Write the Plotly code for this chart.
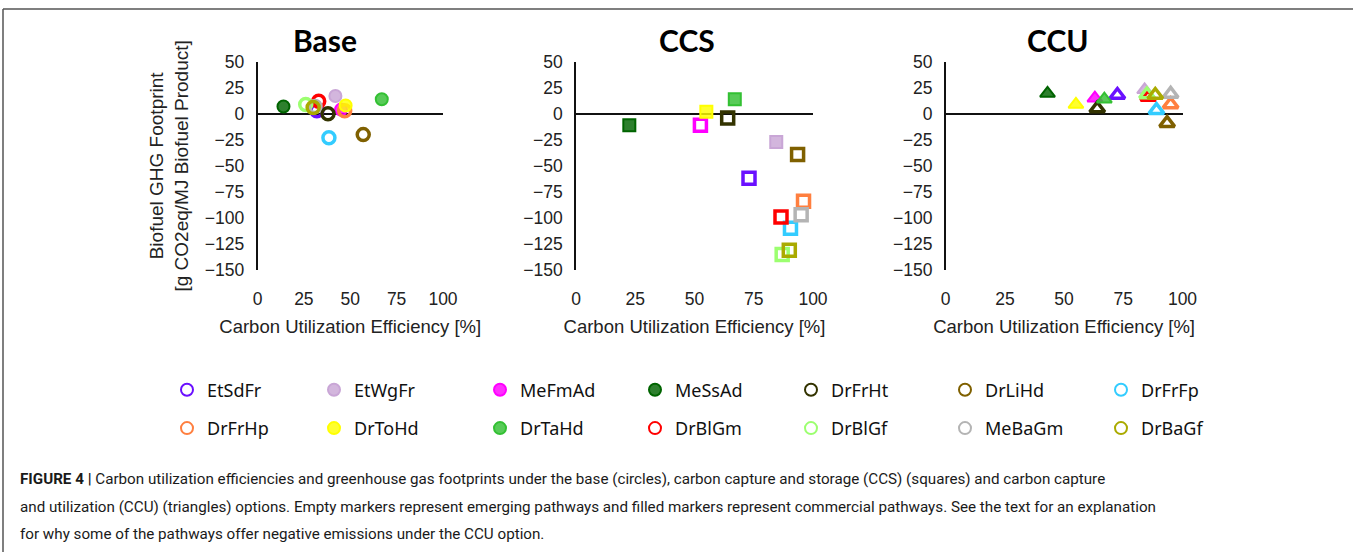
import plotly.graph_objects as go

W, H = 1353, 552

# ---------------- data ----------------
series = ["EtSdFr", "EtWgFr", "MeFmAd", "MeSsAd", "DrFrHt", "DrLiHd", "DrFrFp",
          "DrFrHp", "DrToHd", "DrTaHd", "DrBlGm", "DrBlGf", "MeBaGm", "DrBaGf"]
colors = ["#6a10ff", "#c9a6d6", "#ff00ff", "#006400", "#333300", "#7f6000", "#33ccff",
          "#ff7f3f", "#ffff00", "#33c033", "#ff0000", "#9cff70", "#b4b4b4", "#aaaa00"]

base_x = [32, 42, 45, 14, 38, 57, 38.5, 47, 47.5, 67, 33, 26, 31, 30]
base_y = [3, 17, 4, 7, 0, -20, -23, 3, 8, 14, 12, 9, 7, 6]
base_filled = [0, 1, 1, 1, 0, 0, 0, 0, 1, 1, 0, 0, 0, 0]

ccs_x = [73, 84.5, 52.5, 22.5, 64, 93.5, 90.5, 96, 55, 67, 86.5, 87, 95, 90]
ccs_y = [-62, -27, -11, -11, -4, -39, -110, -84, 2, 14, -99, -135, -97, -131]
ccs_filled = [0, 1, 0, 1, 0, 0, 0, 0, 1, 1, 0, 0, 0, 0]

ccu_x = [72.5, 84, 63, 43, 64, 93.5, 89, 95, 55, 67, 85.5, 85, 95, 88.5]
ccu_y = [18, 23, 15, 19.5, 5, -9, 3.5, 9, 9, 14, 16, 18.5, 19, 18]
ccu_filled = [0, 1, 1, 1, 0, 0, 0, 0, 1, 1, 0, 0, 0, 0]

panel_titles = ["Base", "CCS", "CCU"]
y_ticks = [50, 25, 0, -25, -50, -75, -100, -125, -150]
x_ticks = [0, 25, 50, 75, 100]
y_title = "Biofuel GHG Footprint<br>[g CO2eq/MJ Biofuel Product]"
x_title = "Carbon Utilization Efficiency [%]"
caption = [
    "<b>FIGURE 4 |</b> Carbon utilization efficiencies and greenhouse gas footprints under the base (circles), carbon capture and storage (CCS) (squares) and carbon capture",
    "and utilization (CCU) (triangles) options. Empty markers represent emerging pathways and filled markers represent commercial pathways. See the text for an explanation",
    "for why some of the pathways offer negative emissions under the CCU option.",
]

# ---------------- layout helpers ----------------
def px(v):
    return v / W

def py(v):
    return 1 - v / H

def rgba(hexc, a):
    h = hexc.lstrip("#")
    return "rgba(%d,%d,%d,%.2f)" % (int(h[0:2], 16), int(h[2:4], 16), int(h[4:6], 16), a)

panels = [
    dict(xs=base_x, ys=base_y, filled=base_filled, sym="circle", size=12, xd=(257.5, 443)),
    dict(xs=ccs_x, ys=ccs_y, filled=ccs_filled, sym="square", size=12, xd=(576, 813)),
    dict(xs=ccu_x, ys=ccu_y, filled=ccu_filled, sym="triangle-up", size=13, xd=(945.7, 1182.5)),
]
title_x = [325, 687, 1058]
y_dom = [py(270), py(61.7)]
legend_cols_px = [189, 336, 502, 657, 813, 967, 1123]

fig = go.Figure()
font_axis = "Liberation Sans, Arial, sans-serif"

for p_i, p in enumerate(panels):
    ax = "" if p_i == 0 else str(p_i + 1)
    for i, name in enumerate(series):
        filled = p["filled"][i]
        sym = p["sym"] if filled else p["sym"] + "-open"
        marker = dict(
            symbol=sym, size=p["size"],
            color=rgba(colors[i], 0.82) if filled else colors[i],
            line=dict(color=colors[i], width=2 if filled else 3.5),
        )
        col = i % 7
        lg = "legend" if col == 0 else "legend%d" % (col + 1)
        fig.add_trace(go.Scatter(
            x=[p["xs"][i]], y=[p["ys"][i]], mode="markers", name=name,
            marker=marker, xaxis="x" + ax, yaxis="y" + ax, cliponaxis=False,
            showlegend=(p_i == 0), legend=lg, legendgroup=name,
        ))
    xa = dict(
        domain=[px(p["xd"][0]), px(p["xd"][1])], range=[0, 100], anchor="y" + ax,
        tickvals=x_ticks, showgrid=False, zeroline=False, showline=False, ticks="",
        ticklabelstandoff=16, tickfont=dict(family=font_axis, size=17.5, color="#222"),
        title=dict(text=x_title, standoff=12, font=dict(family=font_axis, size=18.5, color="#222")),
    )
    ya = dict(
        domain=y_dom, range=[-150, 50], anchor="x" + ax,
        tickvals=y_ticks, showgrid=False, zeroline=True, zerolinecolor="#111",
        zerolinewidth=1.5, showline=True, linecolor="#111", linewidth=1.5, ticks="",
        ticklabelstandoff=8, tickfont=dict(family=font_axis, size=17.5, color="#222"),
    )
    if p_i == 0:
        ya["title"] = dict(text=y_title, standoff=11, font=dict(family=font_axis, size=19, color="#222"))
    fig.layout["xaxis" + ax] = xa
    fig.layout["yaxis" + ax] = ya
    fig.add_annotation(text="<b>" + panel_titles[p_i] + "</b>", x=px(title_x[p_i]), y=py(40),
                       xref="paper", yref="paper", xanchor="center", yanchor="middle",
                       showarrow=False,
                       font=dict(family="Lato, Open Sans, sans-serif", size=30, color="#000"))

for k, line in enumerate(caption):
    fig.add_annotation(text=line, x=px(18), y=py(479 + 27.5 * k), xref="paper", yref="paper",
                       xanchor="left", yanchor="middle", showarrow=False, align="left",
                       font=dict(family="Roboto, sans-serif", size=15.2, color="#1a1a1a"))

legends = {}
for c, mx in enumerate(legend_cols_px):
    key = "legend" if c == 0 else "legend%d" % (c + 1)
    legends[key] = dict(
        x=px(mx - 22), y=py(409), xanchor="left", yanchor="middle", orientation="v",
        bgcolor="rgba(0,0,0,0)", itemsizing="constant", tracegroupgap=12,
        font=dict(family="Noto Sans, sans-serif", size=18, color="#111"),
    )

fig.update_layout(
    width=W, height=H, margin=dict(l=0, r=0, t=0, b=0, autoexpand=False),
    paper_bgcolor="white", plot_bgcolor="white",
    shapes=[
        dict(type="line", xref="paper", yref="paper", x0=px(3), x1=1, y0=py(9), y1=py(9),
             line=dict(color="#555", width=1.5)),
        dict(type="line", xref="paper", yref="paper", x0=px(3), x1=px(3), y0=py(9), y1=0,
             line=dict(color="#555", width=1.5)),
    ],
    **legends,
)

fig.write_html("out.html", config={"displayModeBar": False},
               post_script="document.body.style.margin='0px';")
